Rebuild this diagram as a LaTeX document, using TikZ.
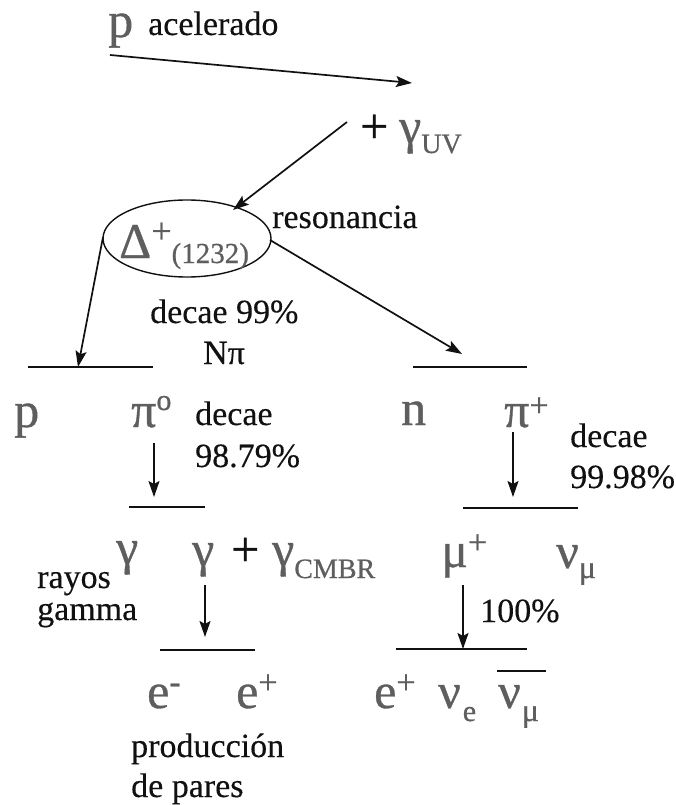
\documentclass[tikz,border=0pt]{standalone}
\usepackage{fontspec}
\setmainfont{Liberation Serif}
\newfontfamily\pfam[FakeBold=0.7]{Liberation Serif}
\newfontfamily\lfam[FakeBold=0.3]{Liberation Serif}
\usetikzlibrary{arrows.meta,shapes.geometric}
\definecolor{pgrey}{HTML}{5E5E5E}
\definecolor{ink}{HTML}{111111}
\newcommand\pfont{\pfam\fontsize{50}{54}\selectfont}
\newcommand\supfont{\fontsize{34}{36}\selectfont}
\newcommand\subfnt{\fontsize{28}{30}\selectfont}
\begin{document}
\begin{tikzpicture}[x=1pt,y=-1pt,
  lbl/.style={font=\lfam\fontsize{34}{38}\selectfont, text=ink, inner sep=0pt, anchor=base west},
  part/.style={font=\pfont, text=pgrey, inner sep=0pt, anchor=base west},
  plus/.style={font=\pfont, text=ink, inner sep=0pt, anchor=base west},
  arr/.style={draw=ink, line width=1.7pt, -{Stealth[length=16pt,width=11pt,inset=3pt]}},
  bar/.style={draw=ink, line width=1.6pt},
  reso/.style={draw=ink, line width=1.4pt, ellipse, minimum width=168pt, minimum height=77pt, inner sep=0pt}]
\useasboundingbox (0,0) rectangle (676,805);

% top
\node[part, text height=25pt] (pacc) at (108,37) {p};
\node[lbl] (acel) at (148,35) {acelerado};
\node[plus] (plusuv) at (360,143) {+};
\node[part] (guv) at (399,143) {γ\raisebox{-10pt}{\subfnt UV}};

% resonance
\node[reso] (res) at (187,238.5) {};
\node[part] (delta) at (119,258) {Δ\raisebox{15pt}{\fontsize{36}{36}\selectfont +}\raisebox{-5pt}{\fontsize{29}{30}\selectfont (1232)}};
\node[lbl] (reson) at (272,228) {resonancia};

\coordinate (a1s) at (110,55);
\coordinate (a1e) at (412,83);
\coordinate (a2s) at (347,122);
\coordinate (a2e) at (233,210);
\draw[arr] (a1s) -- (a1e);
\draw[arr] (a2s) -- (a2e);

% first decay
\coordinate (a3s) at (103,237);
\coordinate (a3e) at (78,367);
\coordinate (a4s) at (270,240);
\coordinate (a4e) at (462,354);
\draw[arr] (a3s) -- (a3e);
\draw[arr] (a4s) -- (a4e);
\node[lbl] (dec99) at (150,323) {decae 99\%};
\node[lbl] (npi) at (203,364) {Nπ};
\coordinate (l1a) at (28,367);
\coordinate (l1b) at (153,367);
\coordinate (l2a) at (413,367);
\coordinate (l2b) at (527,367);
\draw[bar] (l1a) -- (l1b);
\draw[bar] (l2a) -- (l2b);

% second row
\node[part] (p2) at (14,427) {p};
\node[part] (pi0) at (131,427) {π\raisebox{17pt}{\fontsize{30}{30}\selectfont o}};
\node[lbl] (dec1) at (195,425) {decae};
\node[lbl] (dec1b) at (195,467) {98.79\%};
\node[part] (n) at (401,425) {n};
\node[part] (pip) at (504,427) {π\raisebox{10.5pt}{\supfont +}};
\node[lbl] (dec2) at (570,447) {decae};
\node[lbl] (dec2b) at (570,488) {99.98\%};

\coordinate (a5s) at (154,443);
\coordinate (a5e) at (154,497);
\coordinate (a6s) at (513,432);
\coordinate (a6e) at (513,497);
\draw[arr] (a5s) -- (a5e);
\draw[arr] (a6s) -- (a6e);
\coordinate (l3a) at (129,507);
\coordinate (l3b) at (205,507);
\coordinate (l4a) at (463,508);
\coordinate (l4b) at (578,508);
\draw[bar] (l3a) -- (l3b);
\draw[bar] (l4a) -- (l4b);

% third row
\node[lbl] (rayos) at (37,588) {rayos};
\node[part] (g0) at (116,564) {γ};
\node[lbl] (gamma) at (37,620) {gamma};
\node[part] (g1) at (192,566) {γ};
\node[plus] (plus2) at (231,566) {+};
\node[part] (gcmbr) at (272,566) {γ\raisebox{-12pt}{\subfnt CMBR}};
\node[part] (mu) at (441,567) {μ\raisebox{13.5pt}{\supfont +}};
\node[part] (numu) at (556,568) {ν\raisebox{-10pt}{\fontsize{32}{32}\selectfont μ}};
\node[lbl] (p100) at (480,622) {100\%};

\coordinate (a7s) at (205,585);
\coordinate (a7e) at (205,637);
\coordinate (a8s) at (463,585);
\coordinate (a8e) at (463,649);
\draw[arr] (a7s) -- (a7e);
\draw[arr] (a8s) -- (a8e);
\coordinate (l5a) at (160,650);
\coordinate (l5b) at (255,650);
\coordinate (l6a) at (396,649);
\coordinate (l6b) at (527,649);
\draw[bar] (l5a) -- (l5b);
\draw[bar] (l6a) -- (l6b);

% last row
\node[part] (em) at (147,708) {e\raisebox{15pt}{\supfont -}};
\node[part] (ep) at (236,708) {e\raisebox{14.5pt}{\supfont +}};
\node[part] (ep2) at (374,708) {e\raisebox{14.5pt}{\supfont +}};
\node[part] (nue) at (438,708) {ν\kern2pt\raisebox{-13pt}{\fontsize{30}{30}\selectfont e}};
\node[part] (nmb) at (498,708) {ν\kern1pt\raisebox{-13pt}{\fontsize{32}{32}\selectfont μ}};
\coordinate (ovla) at (497,671);
\coordinate (ovlb) at (546,671);
\draw[draw=ink, line width=1.4pt] (ovla) -- (ovlb);
\node[lbl] (prod) at (131,757) {producción};
\node[lbl] (pares) at (131,797) {de pares};
\end{tikzpicture}
\end{document}
